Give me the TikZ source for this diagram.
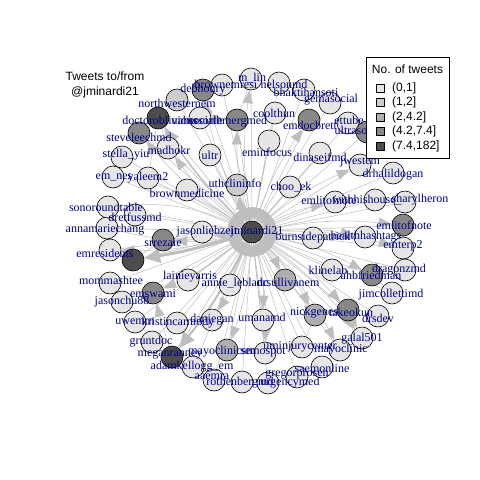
\documentclass[tikz,border=0pt]{standalone}
\usepackage{fontspec}
\setmainfont{Liberation Serif}
\newfontfamily\lsans{Liberation Sans}
\usetikzlibrary{arrows.meta}
\definecolor{cls1}{HTML}{E6E6E6}
\definecolor{cls2}{HTML}{CCCCCC}
\definecolor{cls3}{HTML}{AEAEAE}
\definecolor{cls4}{HTML}{888888}
\definecolor{cls5}{HTML}{4D4D4D}
\definecolor{lblue}{HTML}{00008B}
\definecolor{edgec}{HTML}{BEBEBE}
\pgfdeclarelayer{back}
\pgfdeclarelayer{bg}
\pgfsetlayers{back,bg,main}
\tikzset{
  vtx/.style={circle, draw=black, line width=0.6pt, minimum size=22pt, inner sep=0pt},
  lbl/.style={text=lblue, font=\fontsize{12}{12}\selectfont, inner sep=0pt},
  inedge/.style={draw=edgec, line width=0.5pt, -{Triangle[length=13pt,width=8pt]}, color=edgec},
  outedge/.style={draw=edgec, line width=0.5pt, -{Triangle[length=13pt,width=10pt]}, color=edgec},
  bigedge/.style={draw=edgec, color=edgec, -{Triangle[length=16pt,width=14pt]}},
  plainedge/.style={draw=edgec, line width=0.5pt},
  legtext/.style={font=\lsans\fontsize{12}{12}\selectfont, inner sep=0pt, anchor=west},
  legbox/.style={draw=black, line width=0.5pt, minimum size=8pt, inner sep=0pt},
  ttl/.style={font=\lsans\fontsize{12}{12}\selectfont, inner sep=0pt}
}
\begin{document}
\begin{tikzpicture}[x=1pt,y=-1pt]
\begin{pgfonlayer}{back}
\fill[white] (0,0) rectangle (480,480);
\end{pgfonlayer}
\useasboundingbox (0,0) rectangle (480,480);
% vertices
\node[vtx, fill=cls5] (c) at (252,232) {};
\foreach \n/\x/\y/\k in {
 n1/203/90/4, n2/222/85/1, n3/251/79/1, n4/279/83/1, n5/304/90/1, n6/330/103/1,
 n7/348/123/1, n8/367/132/4, n9/309/120/4, n10/275/113/1, n11/237/120/4, n12/200/118/1,
 n13/177/100/2, n14/158/118/5, n15/139/133/4, n16/168/148/1, n17/210/155/1, n18/122/157/1,
 n19/113/177/1, n20/148/178/1, n21/187/190/1, n22/237/185/2, n23/269/141/1, n24/320/153/1,
 n25/360/165/1, n26/393/173/1, n27/290/187/1, n28/335/202/1, n29/375/200/1, n30/405/202/1,
 n31/403/225/4, n32/365/237/1, n33/313/238/1, n34/403/248/1, n35/332/270/1, n36/372/275/4,
 n37/405/270/1, n38/392/293/1, n39/348/310/4, n40/378/316/1, n41/315/315/3, n42/362/338/1,
 n43/340/350/1, n44/302/347/1, n45/322/367/1, n46/297/377/1, n47/268/383/1, n48/242/382/1,
 n50/265/353/1, n51/227/350/3, n52/263/320/1, n53/285/280/3, n54/230/285/1,
 n55/188/280/1, n56/212/320/1, n57/177/323/1, n58/214/380/1, n59/193/367/1, n60/172/357/5,
 n61/152/342/1, n62/135/322/1, n63/122/302/1, n64/153/293/4, n65/110/283/1, n66/133/260/5,
 n67/110/250/1, n68/163/240/4, n69/107/228/1, n70/135/215/1, n71/108/207/1, n72/202/232/1}
 \node[vtx, fill=cls\k] (\n) at (\x,\y) {};
% edges
\begin{pgfonlayer}{bg}
\foreach \n in {n1,n2,n3,n4,n5,n6,n7,n8,n9,n10,n11,n12,n13,n14,n15,n16,n17,n18,n19,n20,
 n21,n22,n23,n24,n25,n26,n27,n28,n29,n30,n31,n32,n33,n34,n35,n36,n37,n38,n39,n40,n41,n42,
 n43,n44,n45,n46,n47,n48,n50,n51,n52,n53,n54,n55,n56,n57,n58,n59,n60,n61,n62,n63,n64,
 n65,n66,n67,n68,n69,n70,n71,n72}
 \draw[inedge] (\n) -- (c);
\foreach \n in {n1,n3,n9,n11,n15,n16,n22,n25,n28,n31,n32,n34,n36,n39,n41,n42,n43,n50,n51,n52,n56,n64,n67,n68,n53,n72}
 \draw[outedge] (c) to[bend left=8] (\n);
\draw[bigedge, line width=3pt] (c) to[bend left=4] (n66);
\draw[bigedge, line width=2pt] (c) to[bend left=6] (n60);
\draw[bigedge, line width=1.5pt] (c) to[bend left=6] (n14);
\draw[outedge] (n14) -- (n11);
\draw[plainedge] (n14) -- (n13);
\draw[plainedge] (n14) -- (n16);
\draw[outedge] (n60) -- (n64);
\draw[plainedge] (n60) -- (n51);
\draw[outedge] (n66) -- (n67);
\draw[plainedge] (n66) -- (n68);
\draw[plainedge] (n11) -- (n3);
\draw[outedge] (n39) -- (n42);
\draw[plainedge] (n41) -- (n44);
\draw[plainedge] (n31) -- (n34);
\draw[plainedge] (n36) -- (n38);
\draw[plainedge] (n33) -- (n32);
\draw[plainedge] (n72) -- (n68);
\draw[plainedge] (n14) -- (n20);
\draw[plainedge] (c) to[bend right=15] (n71);
\draw[plainedge] (c) to[bend left=12] (n69);
\draw[plainedge] (c) to[bend right=12] (n19);
\end{pgfonlayer}
% labels
\foreach \lx/\ly/\t in {
 257/232/jminardi21, 203/90/debhoury, 226/84/brownemresi, 252/78/m\_lin, 284/84/nelsonmd,
 306/92/bhaktihansoti, 331/100/gemasocial, 349/120/ettube, 369/132/ultrasoundpod,
 310/125/emdocbrett, 274/113/coolthun, 228/122/socialemergmed, 197/120/uabersorth,
 177/103/northwesternem, 160/120/doctoroblivious, 139/137/steveleechmd, 169/150/madhokr,
 210/155/ultr, 126/155/stella\_yiu, 114/177/em\_nes, 148/178/yaleem2, 187/193/brownmedicine,
 235/183/uthclininfo, 267/152/eminfocus, 320/157/dinaseifmd, 360/162/jwestem,
 393/175/drhalildogan, 291/187/choo\_ek, 329/200/emlitofnote, 367/200/withhishouse\_,
 420/200/sharylheron, 404/225/emlitofnote, 366/237/healthhashtags, 313/238/burnsidepatrick,
 403/246/emterp2, 328/270/klinelab, 371/275/ahbfriedman, 399/270/dragonzmd,
 391/295/jimcollettimd, 351/312/takeokun, 378/318/drsdev, 314/313/nickgenes,
 362/339/galal501, 341/350/mayoclinic, 300/347/uminjurycenter, 322/368/saemonline,
 297/375/gregorprosen, 290/383/urgencymed, 240/383/rothenbergmd, 263/352/semospot,
 222/352/mayoclinicsm, 262/317/umanamd, 288/282/drsullivanem, 235/283/annie\_leblanc,
 190/277/lainieyarris, 212/320/danjegan, 178/323/kristincarmody, 212/377/aaemra,
 192/367/adamkellogg\_em, 170/355/meganranney, 151/342/gruntdoc, 135/322/uwemrn,
 122/302/jasonchu88, 153/294/emswami, 111/280/mommashtee, 105/253/emresidents,
 163/243/srrezaie, 105/230/annamariechang, 135/217/dretfussmd, 106/207/sonoroundtable,
 207/232/jasonliebzeit}
 \node[lbl] at (\lx,\ly) {\t};
% legend
\node[draw=black, fill=white, line width=0.5pt, minimum width=83pt, minimum height=101pt, inner sep=0pt, anchor=north west] (leg) at (366,57) {};
\node[legtext, anchor=center] (legt) at (407.5,69) {No. of tweets};
\foreach \k/\yy/\t in {1/88/{(0,1]}, 2/102/{(1,2]}, 3/117/{(2,4.2]}, 4/131/{(4.2,7.4]}, 5/146/{(7.4,182]}} {
 \node[legbox, fill=cls\k] (lb\k) at (380,\yy) {};
 \node[legtext] (lt\k) at (392,\yy) {\t};
}
% title
\node[ttl] (t1) at (105,76) {Tweets to/from};
\node[ttl] (t2) at (105,92) {@jminardi21};
\end{tikzpicture}
\end{document}
